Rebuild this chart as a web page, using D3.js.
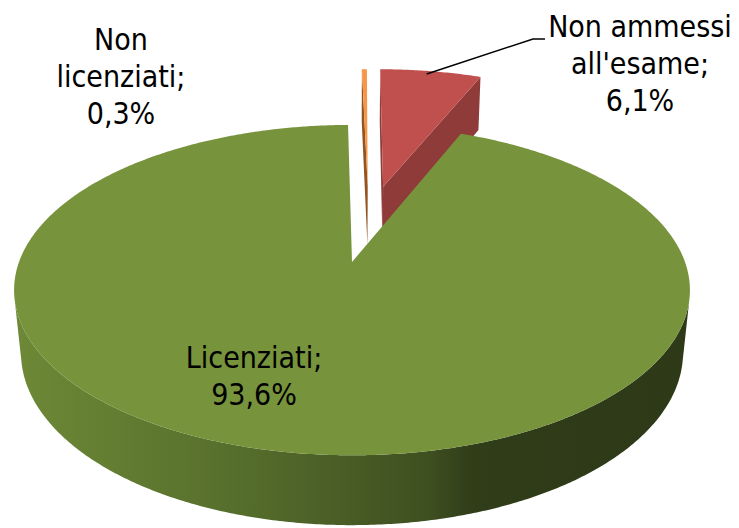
<!DOCTYPE html>
<html>
<head>
<meta charset="utf-8">
<script src="https://cdn.jsdelivr.net/npm/d3@7"></script>
<style>
  html, body { margin: 0; padding: 0; background: #fff; }
  svg { display: block; }
  text { font-family: "DejaVu Sans Condensed", "DejaVu Sans", sans-serif; font-size: 30px; fill: #000; }
</style>
</head>
<body>
<svg id="chart" width="739" height="528"></svg>
<script>
// ---- data ----
const categories = ["Non licenziati", "Non ammessi all'esame", "Licenziati"];
const values = [0.3, 6.1, 93.6];
const valueLabels = ["0,3%", "6,1%", "93,6%"];
const labelLines = [["Non", "licenziati;"], ["Non ammessi", "all'esame;"], ["Licenziati;"]];

// ---- style / layout config ----
const topColors = ["#F79646", "#C0504D", "#77933C"];
const cutColors = ["#94541f", "#8E3B39", "#4f6428"];
const explodeDist = [0.513, 0.52, 0];      // in radius units
const explodeDirOffset = [6, 0, 0];        // degrees relative to bisector
const startDeg = -0.8;
const labelPos = [[121, 50], [640, 37], [254, 368]];
const lineHeight = 37;

const W = 739, H = 528;
const cx = 352, cy = 262, K = 333;
const phi = 28.8 * Math.PI / 180, cs = Math.cos(phi), sn = Math.sin(phi);
const rr = 0.194;      // radius / camera distance
const depthH = 0.217;  // pie thickness / radius

function project(X, Y, Z) {
  const depth = 1 + rr * (Y * cs - Z * sn);
  const up = Y * sn + Z * cs;
  return [cx + K * X / depth, cy - K * up / depth];
}

const svg = d3.select("#chart");
const defs = svg.append("defs");
const grad = defs.append("linearGradient").attr("id", "greenSide")
  .attr("gradientUnits", "userSpaceOnUse").attr("x1", 13).attr("x2", 690).attr("y1", 0).attr("y2", 0);
[[0, "#6d8a38"], [0.05, "#6a8535"], [0.33, "#566e2c"], [0.61, "#3f5020"], [0.68, "#303d19"], [1, "#2d3917"]]
  .forEach(([o, c]) => grad.append("stop").attr("offset", o).attr("stop-color", c));
const sideFills = ["#94541f", "#8E3B39", "url(#greenSide)"];

const start = startDeg * Math.PI / 180;
const pie = d3.pie().sort(null).startAngle(start).endAngle(start + 2 * Math.PI);
const arcs = pie(values);

const line = d3.line();
const camY = -cs / rr, camZ = sn / rr;

const slices = arcs.map((a, i) => {
  const bis = (a.startAngle + a.endAngle) / 2 + explodeDirOffset[i] * Math.PI / 180;
  const e = explodeDist[i];
  const V = [e * Math.sin(bis), e * Math.cos(bis)];
  return { a, i, V, cY: V[1] + Math.cos((a.startAngle + a.endAngle) / 2) * 0.6 };
}).sort((p, q) => q.cY - p.cY);

const g = svg.append("g");
slices.forEach(s => {
  const { a, i, V } = s;
  const a0 = a.startAngle, a1 = a.endAngle;
  const n = Math.max(4, Math.ceil((a1 - a0) / (0.5 * Math.PI / 180)));
  const ts = d3.range(n + 1).map(k => a0 + (a1 - a0) * k / n);
  const rim = (t, Z) => project(V[0] + Math.sin(t), V[1] + Math.cos(t), Z);

  // outer wall (visible parts)
  const vis = t => (-Math.cos(t) * cs / rr - (V[0] * Math.sin(t) + V[1] * Math.cos(t)) - 1) > 0;
  let run = [];
  const runs = [];
  ts.forEach(t => { if (vis(t)) run.push(t); else { if (run.length > 1) runs.push(run); run = []; } });
  if (run.length > 1) runs.push(run);
  runs.forEach(r => {
    const pts = r.map(t => rim(t, 0)).concat(r.slice().reverse().map(t => rim(t, -depthH)));
    g.append("path").attr("d", line(pts) + "Z").attr("fill", sideFills[i]);
  });

  // cut faces
  const camDot = (nx, ny) => (0 - V[0]) * nx + (camY - V[1]) * ny;
  const n0 = [-Math.cos(a0), Math.sin(a0)];
  const n1 = [Math.cos(a1), -Math.sin(a1)];
  [[a0, n0], [a1, n1]].forEach(([t, nn]) => {
    if (camDot(nn[0], nn[1]) > 0) {
      const pts = [project(V[0], V[1], 0), rim(t, 0), rim(t, -depthH), project(V[0], V[1], -depthH)];
      g.append("path").attr("d", line(pts) + "Z").attr("fill", cutColors[i]);
    }
  });

  // top face
  const top = [project(V[0], V[1], 0)].concat(ts.map(t => rim(t, 0)));
  g.append("path").attr("d", line(top) + "Z").attr("fill", topColors[i]);
});

// leader line for "Non ammessi all'esame"
{
  const a = arcs[1];
  const bis = (a.startAngle + a.endAngle) / 2;
  const e = explodeDist[1];
  const V = [e * Math.sin(bis), e * Math.cos(bis)];
  const t = a.startAngle + 0.47 * (a.endAngle - a.startAngle);
  const p0 = project(V[0] + 0.97 * Math.sin(t), V[1] + 0.97 * Math.cos(t), 0);
  svg.append("path").attr("d", line([p0, [533, 39], [545, 39]]))
    .attr("fill", "none").attr("stroke", "#000").attr("stroke-width", 1.5);
}

// labels
categories.forEach((c, i) => {
  const lines = labelLines[i].concat([valueLabels[i]]);
  const t = svg.append("text").attr("text-anchor", "middle")
    .attr("x", labelPos[i][0]).attr("y", labelPos[i][1]);
  lines.forEach((l, k) => t.append("tspan").attr("x", labelPos[i][0]).attr("dy", k === 0 ? 0 : lineHeight).text(l));
});
</script>
</body>
</html>
